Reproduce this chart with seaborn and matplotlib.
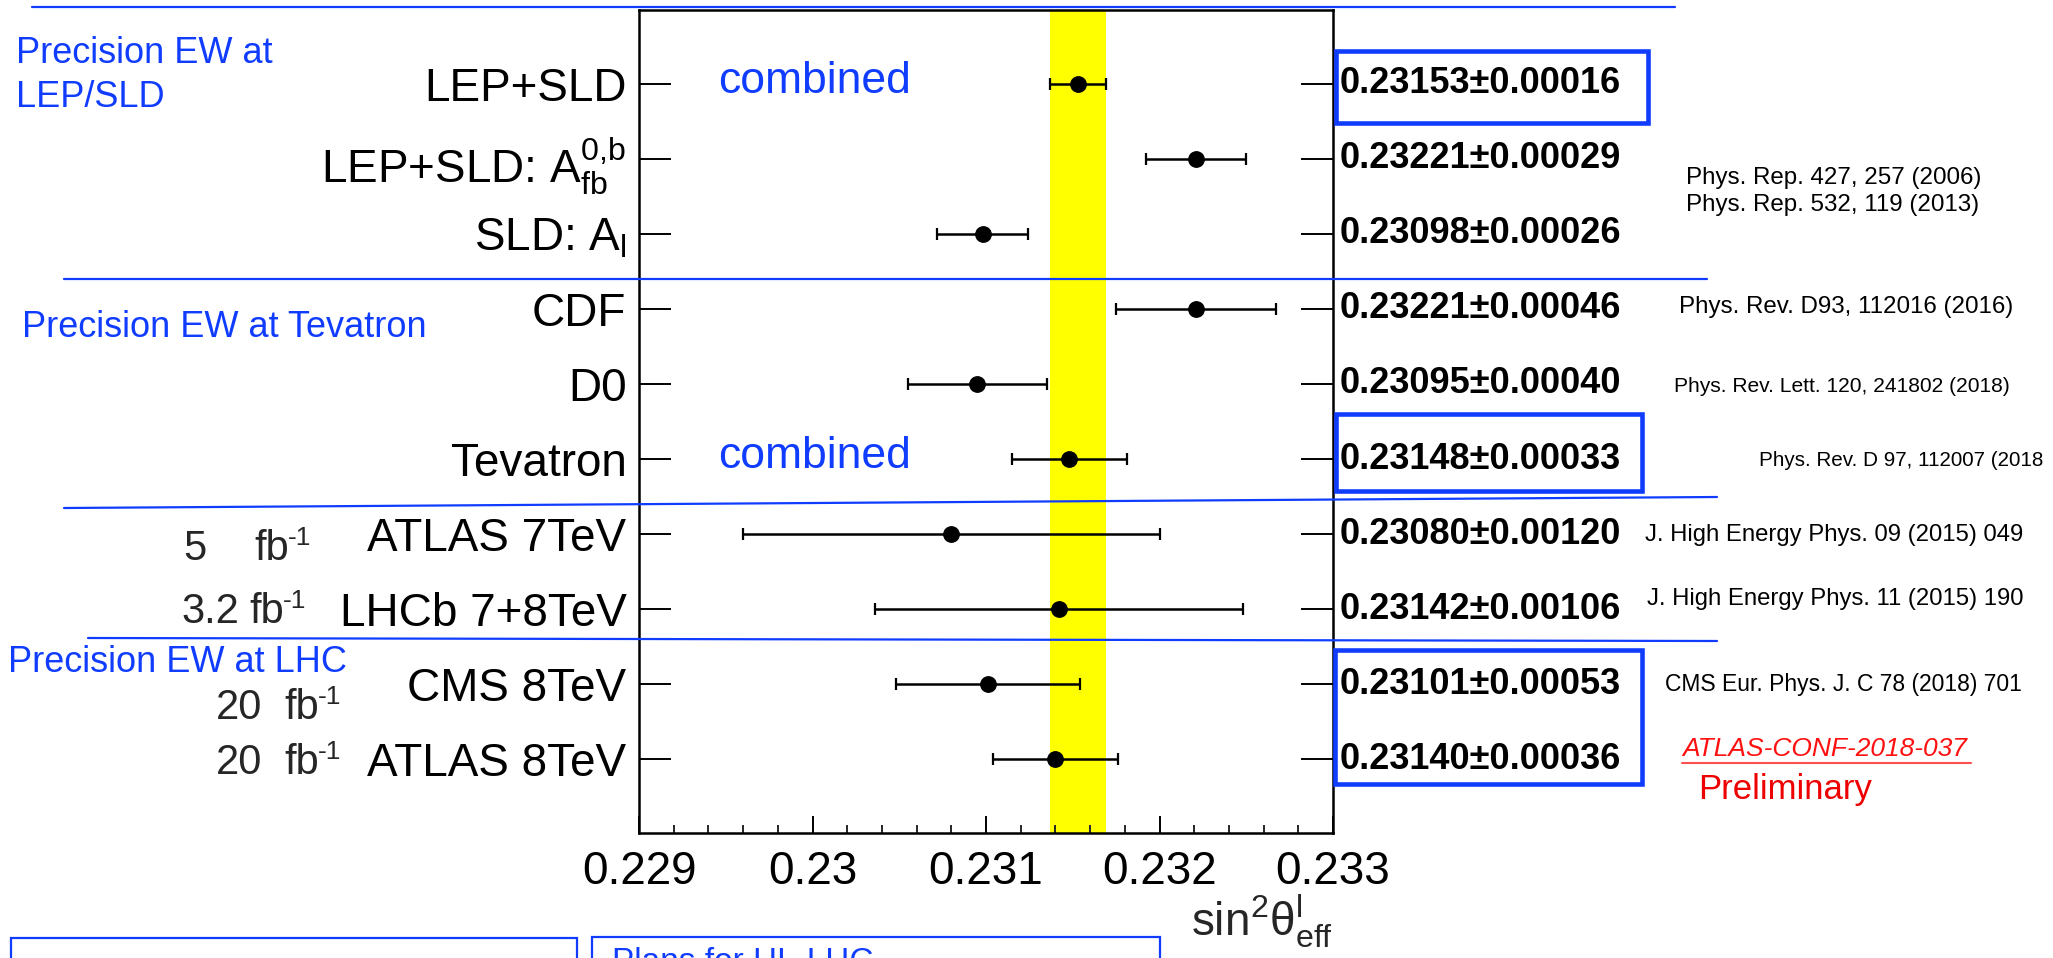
import matplotlib
matplotlib.use('Agg')
import matplotlib.pyplot as plt
import matplotlib.transforms as mtransforms
from matplotlib.lines import Line2D
from matplotlib.patches import Rectangle
from matplotlib.ticker import MultipleLocator, FixedLocator
import pandas as pd
import seaborn as sns

# measurements of sin^2 theta_eff (value, error)
labels = ['LEP+SLD', r'LEP+SLD: $\mathrm{A^{0,\!b}_{fb}}$', r'SLD: $\mathrm{A_{l}}$',
          'CDF', 'D0', 'Tevatron', 'ATLAS 7TeV', 'LHCb 7+8TeV', 'CMS 8TeV', 'ATLAS 8TeV']
values = [0.23153, 0.23221, 0.23098, 0.23221, 0.23095, 0.23148, 0.23080, 0.23142, 0.23101, 0.23140]
errors = [0.00016, 0.00029, 0.00026, 0.00046, 0.00040, 0.00033, 0.00120, 0.00106, 0.00053, 0.00036]
xtick_vals = [0.229, 0.230, 0.231, 0.232, 0.233]
xtick_labels = ['0.229', '0.23', '0.231', '0.232', '0.233']

refs = ['Phys. Rep. 427, 257 (2006)', 'Phys. Rep. 532, 119 (2013)',
        'Phys. Rev. D93, 112016 (2016)', 'Phys. Rev. Lett. 120, 241802 (2018)',
        'Phys. Rev. D 97, 112007 (2018', 'J. High Energy Phys. 09 (2015) 049',
        'J. High Energy Phys. 11 (2015) 190', 'CMS Eur. Phys. J. C 78 (2018) 701']
lumi_num = ['5', '3.2', '20', '20']

W, H = 2053, 958
BLUE = '#0f3cff'

sns.set_theme(style='ticks')
plt.rcParams['font.family'] = ['Liberation Sans', 'DejaVu Sans']
plt.rcParams['mathtext.fontset'] = 'custom'
plt.rcParams['mathtext.rm'] = 'Liberation Sans'
plt.rcParams['mathtext.it'] = 'Liberation Sans:italic'
plt.rcParams['mathtext.bf'] = 'Liberation Sans:bold'


def fx(x):
    return x / W


def fy(y):
    return 1 - y / H


fig = plt.figure(figsize=(W / 100, H / 100), dpi=100)
ax = fig.add_axes([fx(639), fy(833), (1333 - 639) / W, (833 - 10) / H])

rows = list(range(len(values)))
df = pd.DataFrame({'value': values, 'err': errors, 'row': rows})

# combined LEP+SLD band
ax.axvspan(values[0] - errors[0], values[0] + errors[0], color='#ffff00', lw=0, zorder=0)

ax.errorbar(df['value'], df['row'], xerr=df['err'], fmt='none', ecolor='black',
            elinewidth=1.8, capsize=4.5, capthick=1.6, zorder=2)
sns.scatterplot(data=df, x='value', y='row', color='black', s=125, edgecolor='black',
                ax=ax, zorder=3, legend=False)

ax.set_xlim(0.229, 0.233)
ax.set_ylim(9.98, -0.98)
ax.set_xlabel('')
ax.set_ylabel('')

ax.xaxis.set_major_locator(FixedLocator(xtick_vals))
ax.set_xticklabels(xtick_labels)
ax.xaxis.set_minor_locator(MultipleLocator(0.0002))
ax.set_yticks(rows)
ax.set_yticklabels(labels)
ax.yaxis.set_minor_locator(FixedLocator([]))

ax.tick_params(axis='x', which='major', direction='in', length=12, width=1.4,
               top=False, bottom=True, labelsize=33, pad=12, colors='black')
ax.tick_params(axis='x', which='minor', direction='in', length=6, width=1.4,
               top=False, bottom=True)
ax.tick_params(axis='y', which='major', direction='in', length=23, width=1.4,
               left=True, right=True, labelsize=33, pad=9, colors='black')
for sp in ax.spines.values():
    sp.set_visible(True)
    sp.set_linewidth(1.8)
    sp.set_color('black')

# values on the right
trans = mtransforms.blended_transform_factory(ax.transAxes, ax.transData)
for r, v, e in zip(rows, values, errors):
    ax.text(1.009, r, f'{v:.5f}±{e:.5f}', transform=trans, ha='left', va='center',
            fontsize=26, fontweight='bold', color='black')

# x label
fig.text(fx(1333), fy(935), r'sin$^{2}\mathrm{\theta^{l}_{eff}}$', ha='right',
         va='baseline', fontsize=33)

# "combined"
for yb in [93, 468]:
    fig.text(fx(718), fy(yb), 'combined', color=BLUE, fontsize=32, va='baseline')

# section headers
fig.text(fx(16), fy(63), 'Precision EW at', color=BLUE, fontsize=26, va='baseline')
fig.text(fx(16), fy(107), 'LEP/SLD', color=BLUE, fontsize=26, va='baseline')
fig.text(fx(22), fy(337), 'Precision EW at Tevatron', color=BLUE, fontsize=26, va='baseline')
fig.text(fx(8), fy(672), 'Precision EW at LHC', color=BLUE, fontsize=26, va='baseline')

# luminosities
lumi_pos = [(183, 254, 560), (181, 249, 623), (216, 284, 719), (216, 284, 774)]
for num, (xn, xu, yb) in zip(lumi_num, lumi_pos):
    fig.text(fx(xn), fy(yb), num, fontsize=30, va='baseline')
    fig.text(fx(xu), fy(yb), 'fb', fontsize=30, va='baseline')
    fig.text(fx(xu + 34), fy(yb - 15), '-1', fontsize=19, va='baseline')

# references
ref_pos = [(1686, 178), (1686, 205), (1679, 307), (1674, 386), (1759, 461),
           (1645, 535), (1647, 599), (1665, 684)]
ref_size = [17.4, 17.4, 17.4, 15.1, 14.9, 17.2, 17.2, 16.5]
for t, (x, y), fs in zip(refs, ref_pos, ref_size):
    fig.text(fx(x), fy(y), t, fontsize=fs, va='center', color='black')

fig.text(fx(1682), fy(749), 'ATLAS-CONF-2018-037', fontsize=19, style='italic',
         color='#ff1010', va='center')
fig.add_artist(Line2D([fx(1682), fx(1971)], [fy(763), fy(763)], color='#ff5050',
                      lw=1.5, transform=fig.transFigure))
fig.text(fx(1698), fy(789), 'Preliminary', fontsize=25, color='#ee0000', va='center')

# blue separator lines
seps = [(32, 7, 1675, 7), (64, 279, 1707, 279), (64, 508, 1717, 497), (88, 638, 1717, 641)]
for x0, y0, x1, y1 in seps:
    fig.add_artist(Line2D([fx(x0), fx(x1)], [fy(y0), fy(y1)], color=BLUE, lw=1.6,
                          transform=fig.transFigure))

# boxes around the combined results
boxes = [(1336, 51, 1648, 123), (1336, 414, 1642, 491), (1335, 650, 1642, 784)]
for x0, y0, x1, y1 in boxes:
    fig.add_artist(Rectangle((fx(x0), fy(y1)), fx(x1) - fx(x0), fy(y0) - fy(y1),
                             fill=False, ec=BLUE, lw=3.3, transform=fig.transFigure))

# bottom boxes (cut by the frame)
for x0, x1, y0 in [(11, 577, 938), (592, 1160, 937)]:
    fig.add_artist(Rectangle((fx(x0), fy(y0 + 60)), fx(x1) - fx(x0), 60 / H,
                             fill=False, ec=BLUE, lw=1.6, transform=fig.transFigure))
fig.text(fx(612), fy(947), 'Plans for HL-LHC', color=BLUE, fontsize=24, va='top')

fig.savefig('out.png', dpi=100)
